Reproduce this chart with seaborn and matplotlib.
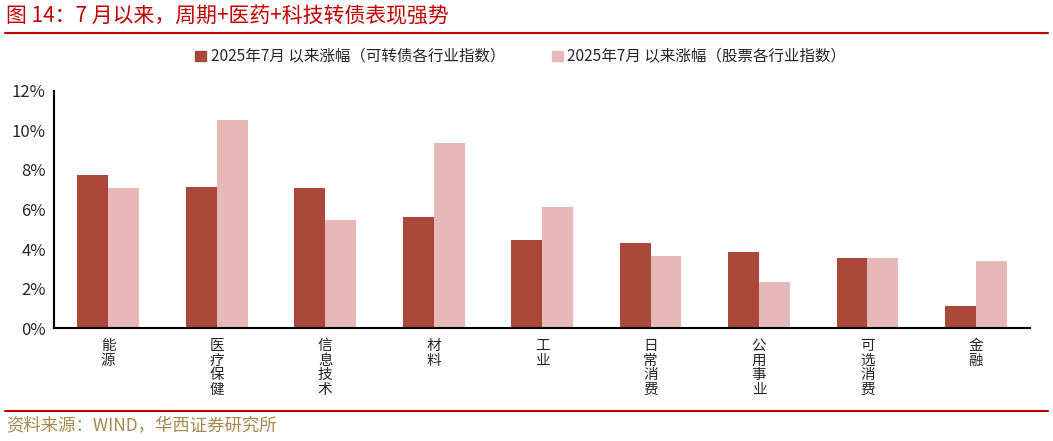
import pandas as pd
import numpy as np
import matplotlib
matplotlib.use("Agg")
import matplotlib.pyplot as plt
import seaborn as sns
from matplotlib.ticker import FuncFormatter, FixedLocator

sectors = ["能源", "医疗保健", "信息技术", "材料", "工业", "日常消费", "公用事业", "可选消费", "金融"]
cb_index = [7.73, 7.14, 7.07, 5.61, 4.48, 4.31, 3.85, 3.57, 1.13]
stock_index = [7.07, 10.55, 5.47, 9.35, 6.15, 3.63, 2.35, 3.57, 3.41]
series_names = ["2025年7月 以来涨幅（可转债各行业指数）", "2025年7月 以来涨幅（股票各行业指数）"]

df = pd.DataFrame({
    "sector": sectors * 2,
    "value": cb_index + stock_index,
    "series": [series_names[0]] * len(sectors) + [series_names[1]] * len(sectors),
})

sns.set_style("white")
plt.rcParams["font.family"] = ["Noto Sans CJK SC", "DejaVu Sans"]
plt.rcParams["axes.unicode_minus"] = False

fig = plt.figure(figsize=(10.53, 4.41), dpi=100)
ax = fig.add_axes([0.0513, 0.256, 0.927, 0.538])

palette = ["#A9473A", "#E6B8B7"]
sns.barplot(data=df, x="sector", y="value", hue="series", palette=palette,
            width=0.57, gap=0, saturation=1, ax=ax, legend=False,
            linewidth=0, edgecolor="none")

ax.set_ylim(0, 12)
ax.set_xlim(-0.5, len(sectors) - 0.5)
ax.set_yticks(np.arange(0, 13, 2))
ax.yaxis.set_major_formatter(FuncFormatter(lambda v, p: f"{v:.0f}%"))
ax.set_xlabel("")
ax.set_ylabel("")

# vertical stacked category labels, ticks at boundaries
ax.set_xticks(range(len(sectors)))
ax.set_xticklabels(["\n".join(s) for s in sectors], fontsize=10.5, linespacing=1.05,
                   va="top")
ax.tick_params(axis="x", which="major", length=0, pad=8)
ax.xaxis.set_minor_locator(FixedLocator(np.arange(0.5, len(sectors) - 0.4, 1)))
ax.tick_params(axis="x", which="minor", direction="in", length=4, width=1.2, color="black")
ax.tick_params(axis="y", direction="in", length=4, width=1.2, color="black",
               labelsize=12, pad=6)

for s in ["top", "right"]:
    ax.spines[s].set_visible(False)
for s in ["left", "bottom"]:
    ax.spines[s].set_color("black")
    ax.spines[s].set_linewidth(1.5)

# legend above the plot
handles = [plt.Rectangle((0, 0), 1, 1, color=c) for c in palette]
fig.legend(handles, series_names, loc="center left", bbox_to_anchor=(0.172, 0.871),
           ncol=2, frameon=False, fontsize=11.2, handlelength=0.7, handleheight=0.7,
           handletextpad=0.3, columnspacing=3.0)

# title, rules and source
fig.text(0.006, 0.962, "图 14：7 月以来，周期+医药+科技转债表现强势", color="#C00000",
         fontsize=15, fontweight="medium", va="center", ha="left")
fig.add_artist(plt.Line2D([0.005, 0.995], [0.925, 0.925], color="#C00000", lw=1.5))
fig.add_artist(plt.Line2D([0.005, 0.995], [0.068, 0.068], color="#C00000", lw=1.5))
fig.text(0.006, 0.034, "资料来源：WIND，华西证券研究所", color="#A8884F",
         fontsize=12.5, va="center", ha="left")

fig.savefig("out.png", dpi=100)
